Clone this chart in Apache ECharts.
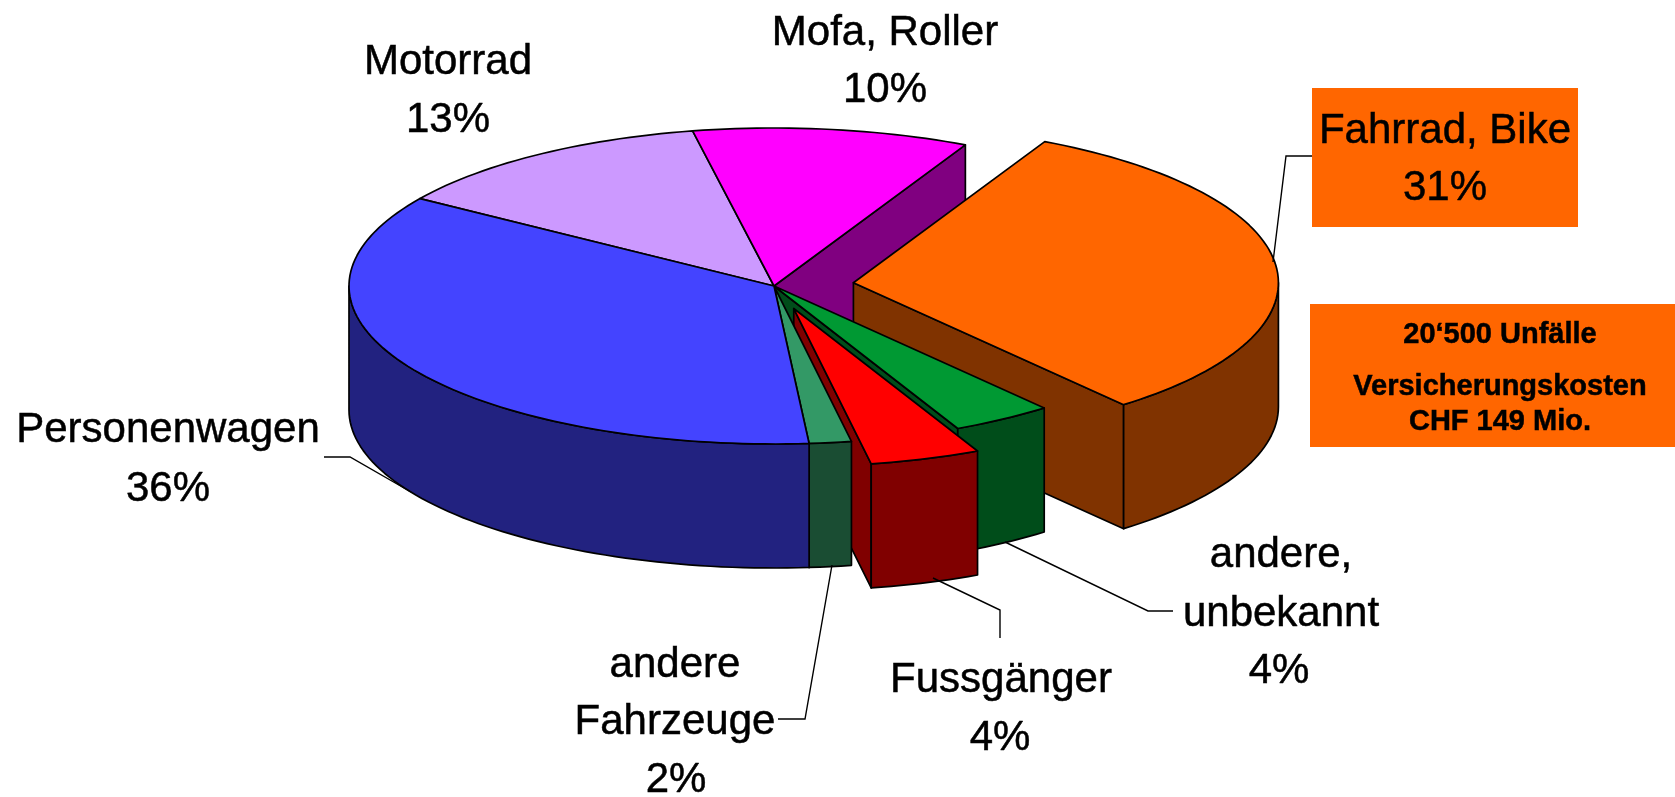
<!DOCTYPE html>
<html>
<head>
<meta charset="utf-8">
<title>Unfälle</title>
<style>
    html, body { margin: 0; padding: 0; background: #fff; }
    #chartContainer { width: 1675px; height: 797px; }
</style>
<script src="https://cdn.jsdelivr.net/npm/echarts@6/dist/echarts.min.js"></script>
</head>
<body>
<div id="chartContainer"></div>
<script>
// clockwise, starting at the Personenwagen / Motorrad boundary, also the draw order
var categories = [ 'Motorrad', 'Mofa, Roller', 'Fahrrad, Bike', 'andere, unbekannt', 'Fussgänger', 'andere Fahrzeuge', 'Personenwagen' ];
// slice sizes as measured on the picture, the printed labels are rounded differently
var shares = [ 12.6, 10.5, 31.6, 3.85, 4.2, 1.6, 35.65 ];
var pctLabels = [ '13%', '10%', '31%', '4%', '4%', '2%', '36%' ];
var explode = [ 0, 0, 0.188, 0, 0.15, 0, 0 ];
var topColors = [ '#CC99FF', '#FF00FF', '#FF6600', '#009933', '#FF0000', '#339966', '#4444FF' ];
var sideColors = [ '#664D80', '#800080', '#803300', '#004D1A', '#800000', '#1A4D33', '#222280' ];

var infoLines = [ '20‘500 Unfälle', 'Versicherungskosten', 'CHF 149 Mio.' ];

var START_ANGLE = 303.6;
var CX = 774, CY = 286, RX = 425, RY = 158, DEPTH = 124;
var FONT = '"Liberation Sans", Arial, sans-serif';

function rimPoint(angle, ox, oy, drop) {
    var rad = angle * Math.PI / 180;
    return [ ox + RX * Math.sin(rad), oy - RY * Math.cos(rad) + drop ];
}

function arcPoints(from, to, ox, oy, drop) {
    var pts = [];
    var steps = Math.max(2, Math.ceil((to - from) / 1.5));
    for (var i = 0; i <= steps; i++) {
        pts.push(rimPoint(from + (to - from) * i / steps, ox, oy, drop));
    }
    return pts;
}

function poly(points, fill) {
    return {
        type : 'polygon',
        shape : { points : points },
        style : { fill : fill, stroke : '#000', lineWidth : 1.7, lineJoin : 'round' }
    };
}

function renderSlice(params, api) {
    var idx = api.value(0);
    var total = 0, before = 0;
    for (var i = 0; i < shares.length; i++) {
        if (i < idx) before += shares[i];
        total += shares[i];
    }
    var a0 = START_ANGLE + before / total * 360;
    var a1 = a0 + shares[idx] / total * 360;
    if (a0 >= 360) {
        a0 -= 360;
        a1 -= 360;
    }
    var mid = (a0 + a1) / 2 * Math.PI / 180;
    var ox = CX + explode[idx] * RX * Math.sin(mid);
    var oy = CY - explode[idx] * RY * Math.cos(mid);
    var children = [];

    // cut face on the clockwise end, only when it faces the viewer
    var endRad = a1 * Math.PI / 180;
    if (Math.sin(endRad) > 0) {
        var e = rimPoint(a1, ox, oy, 0);
        children.push(poly([ [ ox, oy ], e, [ e[0], e[1] + DEPTH ], [ ox, oy + DEPTH ] ], sideColors[idx]));
    }

    // outer wall, front half of the ellipse only
    var f0 = Math.max(a0, 90), f1 = Math.min(a1, 270);
    if (f1 > f0) {
        var upper = arcPoints(f0, f1, ox, oy, 0);
        var lower = arcPoints(f0, f1, ox, oy, DEPTH).reverse();
        children.push(poly(upper.concat(lower), sideColors[idx]));
    }

    children.push(poly([ [ ox, oy ] ].concat(arcPoints(a0, a1, ox, oy, 0)), topColors[idx]));
    return { type : 'group', children : children };
}

// size 42 labels: text, centre x, baseline y
var labelLayout = [
    [ 'Motorrad', 448, 75 ], [ pctLabels[0], 448, 133 ],
    [ 'Mofa, Roller', 885, 46 ], [ pctLabels[1], 885, 103 ],
    [ 'Fahrrad, Bike', 1445, 144 ], [ pctLabels[2], 1445, 201 ],
    [ 'andere,', 1281, 568 ], [ 'unbekannt', 1281, 627 ], [ pctLabels[3], 1279, 684 ],
    [ 'Fussgänger', 1001, 693 ], [ pctLabels[4], 1000, 751 ],
    [ 'andere', 675, 678 ], [ 'Fahrzeuge', 675, 735 ], [ pctLabels[5], 676, 793 ],
    [ 'Personenwagen', 168, 443 ], [ pctLabels[6], 168, 502 ]
];
var infoBaselines = [ 343, 395, 430 ];

var leaders = [
    [ [ 1312, 156 ], [ 1286, 156 ], [ 1273, 262 ] ],
    [ [ 324, 457 ], [ 350, 457 ], [ 411, 492 ] ],
    [ [ 778, 719 ], [ 805, 719 ], [ 832, 565 ] ],
    [ [ 1000, 638 ], [ 1000, 610 ], [ 933, 578 ] ],
    [ [ 1173, 611 ], [ 1148, 611 ], [ 1005, 542 ] ]
];

function textEl(text, x, baseline, size, weight) {
    return {
        type : 'text',
        x : x,
        y : baseline,
        z : 12,
        style : {
            text : text,
            x : 0,
            y : 0,
            fill : '#000',
            stroke : '#000',
            lineWidth : 0.5,
            align : 'center',
            verticalAlign : 'bottom',
            font : weight + ' ' + size + 'px ' + FONT
        }
    };
}

var graphics = [
    { type : 'rect', z : 10, shape : { x : 1312, y : 88, width : 266, height : 139 }, style : { fill : '#FF6600' } },
    { type : 'rect', z : 10, shape : { x : 1310, y : 304, width : 365, height : 143 }, style : { fill : '#FF6600' } }
];
leaders.forEach(function (pts) {
    graphics.push({
        type : 'polyline',
        z : 11,
        shape : { points : pts },
        style : { fill : null, stroke : '#000', lineWidth : 1.4 }
    });
});
labelLayout.forEach(function (l) {
    // verticalAlign bottom sits about 0.21 em under the baseline
    graphics.push(textEl(l[0], l[1], l[2] + 42 * 0.21, 42, 'normal'));
});
infoLines.forEach(function (t, i) {
    graphics.push(textEl(t, 1500, infoBaselines[i] + 29 * 0.21, 29, 'bold'));
});

var chart = echarts.init(document.getElementById('chartContainer'), null, { renderer : 'canvas' });
chart.setOption({
    animation : false,
    backgroundColor : '#fff',
    series : [ {
        type : 'custom',
        name : 'Unfälle',
        coordinateSystem : 'none',
        renderItem : renderSlice,
        data : categories.map(function (name, i) {
            return { name : name, value : [ i, shares[i] ] };
        })
    } ],
    graphic : { elements : graphics }
});
</script>
</body>
</html>
